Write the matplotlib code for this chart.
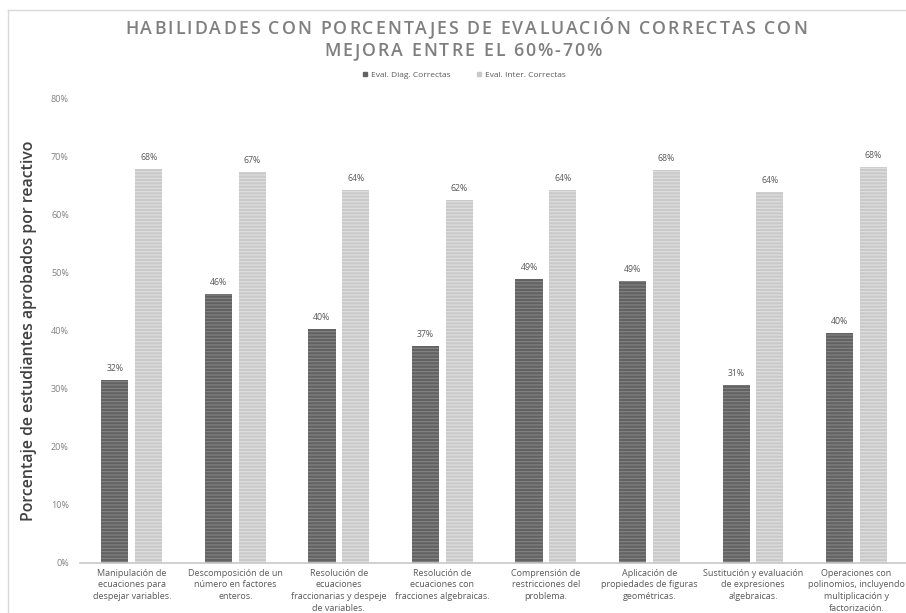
import matplotlib
matplotlib.use("Agg")
import matplotlib.pyplot as plt
import numpy as np
from matplotlib.lines import Line2D
from matplotlib.font_manager import FontProperties, findfont, get_font

categories = [
    "Manipulación de\necuaciones para\ndespejar variables.",
    "Descomposición de un\nnúmero en factores\nenteros.",
    "Resolución de\necuaciones\nfraccionarias y despeje\nde variables.",
    "Resolución de\necuaciones con\nfracciones algebraicas.",
    "Comprensión de\nrestricciones del\nproblema.",
    "Aplicación de\npropiedades de figuras\ngeométricas.",
    "Sustitución y evaluación\nde expresiones\nalgebraicas.",
    "Operaciones con\npolinomios, incluyendo\nmultiplicación y\nfactorización.",
]
diag = [31.5, 46.2, 40.3, 37.3, 48.9, 48.5, 30.7, 39.6]
inter = [67.8, 67.3, 64.1, 62.4, 64.1, 67.6, 63.8, 68.2]
diag_labels = ["32%", "46%", "40%", "37%", "49%", "49%", "31%", "40%"]
inter_labels = ["68%", "67%", "64%", "62%", "64%", "68%", "64%", "68%"]
series_names = ["Eval. Diag. Correctas", "Eval. Inter. Correctas"]
yticks = [0, 10, 20, 30, 40, 50, 60, 70, 80]
title_lines = ["HABILIDADES CON PORCENTAJES DE EVALUACIÓN CORRECTAS CON",
               "MEJORA ENTRE EL 60%-70%"]

plt.rcParams['font.family'] = ['Open Sans', 'DejaVu Sans']
plt.rcParams['hatch.linewidth'] = 0.8

W, H = 906, 613
DPI = 100
fig = plt.figure(figsize=(W / DPI, H / DPI), dpi=DPI)
ax = fig.add_axes([80 / W, (H - 563) / H, (906 - 80) / W, (563 - 98) / H])

x = np.arange(len(categories))
off = 0.163
bw = 0.262
ax.bar(x - off, diag, bw, color="#626262", edgecolor="#858585",
       hatch="-----", linewidth=0, label=series_names[0])
ax.bar(x + off, inter, bw, color="#c9c9c9", edgecolor="#e0e0e0",
       hatch="-----", linewidth=0, label=series_names[1])

for xi, v, t in zip(x - off, diag, diag_labels):
    ax.text(xi, v + 1.2, t, ha="center", va="bottom", fontsize=6.3, color="#595959")
for xi, v, t in zip(x + off, inter, inter_labels):
    ax.text(xi, v + 1.2, t, ha="center", va="bottom", fontsize=6.3, color="#595959")

ax.set_xlim(-0.5, (906 - 132) / 103.5)
ax.set_ylim(0, 80)
ax.set_yticks(yticks)
ax.set_yticklabels([f"{t}%" for t in yticks], fontsize=6.5, color="#808080")
ax.set_xticks(x)
ax.set_xticklabels(categories, fontsize=6.5, color="#595959", linespacing=1.4)
ax.tick_params(axis="both", length=0)
ax.tick_params(axis="y", pad=8)
ax.tick_params(axis="x", pad=4)
for s in ["top", "right", "left"]:
    ax.spines[s].set_visible(False)
ax.spines["bottom"].set_color("#c8c8c8")
ax.spines["bottom"].set_linewidth(1.2)

ax.set_ylabel("Porcentaje de estudiantes aprobados por reactivo", fontsize=11.4,
              color="#404040", fontweight="semibold")
ax.yaxis.set_label_coords(-(80 - 37) / (906 - 80), 0.5)


def spaced_text(xc_px, yc_px, s, size, spacing_px, **kw):
    fp = FontProperties(family="Open Sans", weight=kw.get("fontweight", "normal"))
    font = get_font(findfont(fp))
    font.set_size(size, DPI)
    adv = []
    for ch in s:
        g = font.load_char(ord(ch))
        adv.append(g.linearHoriAdvance / 65536.0)
    total = sum(adv) + spacing_px * (len(s) - 1)
    cur = xc_px - total / 2
    for ch, a in zip(s, adv):
        if ch != " ":
            fig.text(cur / W, 1 - yc_px / H, ch, ha="left", va="center",
                     fontsize=size, **kw)
        cur += a + spacing_px


spaced_text(466, 29, title_lines[0], 12.8, 2.0, color="#7f7f7f", fontweight="semibold")
spaced_text(463, 51, title_lines[1], 12.8, 2.0, color="#7f7f7f", fontweight="semibold")

handles = [Line2D([], [], marker="s", linestyle="", markersize=3.5, color="#626262"),
           Line2D([], [], marker="s", linestyle="", markersize=3.5, color="#c9c9c9")]
fig.legend(handles, series_names, loc="center", bbox_to_anchor=(464 / W, 1 - 75 / H),
           ncol=2, frameon=False, fontsize=6, labelcolor="#595959",
           handlelength=0.8, handletextpad=0.3, columnspacing=3)

# chart area border
fig.add_artist(Line2D([8 / W, 8 / W], [0, 1 - 10 / H], color="#d9d9d9", linewidth=1,
                      transform=fig.transFigure))
fig.add_artist(Line2D([8 / W, 1], [1 - 10 / H, 1 - 10 / H], color="#d9d9d9", linewidth=1,
                      transform=fig.transFigure))

fig.savefig("out.png", dpi=DPI)
